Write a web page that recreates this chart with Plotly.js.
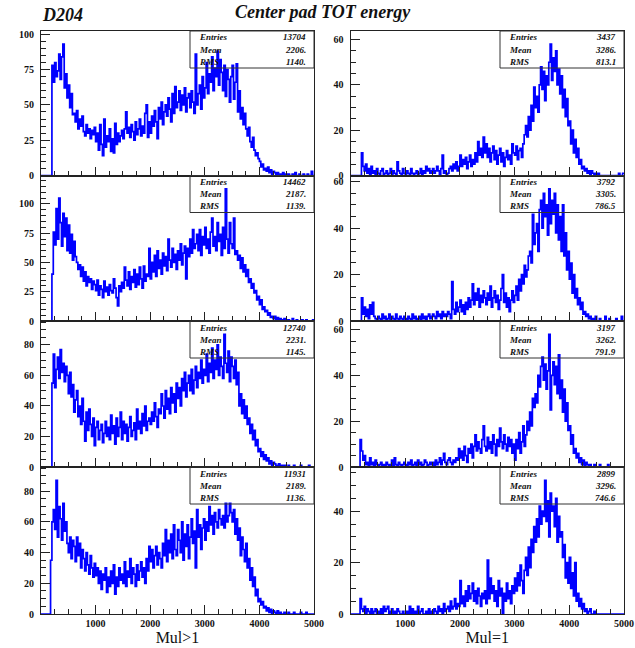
<!DOCTYPE html>
<html>
<head>
<meta charset="utf-8">
<script src="https://cdn.plot.ly/plotly-3.0.1.min.js"></script>
<style>
html,body{margin:0;padding:0;background:#fff}
#chart{width:635px;height:648px}
</style>
</head>
<body>
<div id="chart"></div>
<script>
// TOT spectra, 25-unit bins from 0 to 5000 (200 bins per histogram)
const binWidth = 25;
const xMin = 0;
const xMax = 5000;

// Mul>1 (left column)
const mulGt1Pad1 = [
  0,0,0,0,0,0,0,0,78,66,80,70,74,86,68,84,93,62,72,55,
  64,48,58,43,44,38,46,33,40,35,42,31,28,36,30,33,26,32,29,34,
  24,30,18,36,22,14,40,20,28,24,33,17,26,16,37,22,30,24,28,32,
  26,33,45,30,34,27,36,31,25,38,29,33,40,28,35,30,44,50,27,38,
  30,42,35,46,38,26,48,40,52,36,45,50,42,55,47,38,58,44,63,48,
  52,60,46,57,50,62,45,55,58,48,60,52,44,86,50,58,64,47,70,55,
  62,80,58,72,66,84,60,76,70,88,64,82,73,60,78,56,75,68,52,70,
  78,54,66,79,45,60,40,48,36,44,33,28,34,24,20,27,18,14,16,12,
  10,6,8,4,5,3,6,2,4,1,3,2,0,2,1,0,1,2,0,1,
  0,1,0,0,1,0,2,0,0,1,0,0,1,0,0,1,0,0,3,0
];
const mulGt1Pad2 = [
  0,0,0,0,0,0,0,0,40,76,65,96,70,105,84,64,92,72,88,60,
  82,58,74,52,68,55,50,44,48,38,46,34,42,30,38,33,36,27,34,31,
  26,35,22,30,27,20,34,25,29,22,31,26,24,36,28,20,13,30,25,33,
  28,46,35,30,42,27,38,33,44,29,40,31,46,36,28,47,34,40,38,62,
  36,50,42,56,38,60,45,52,40,58,47,55,43,70,52,46,62,50,57,44,
  60,52,66,48,58,64,36,62,55,70,58,78,62,66,74,60,78,56,72,65,
  80,62,70,58,76,88,64,72,60,84,68,74,56,80,62,113,70,58,84,66,
  62,88,57,60,52,56,45,54,42,48,38,44,33,36,28,32,24,26,18,21,
  14,18,10,12,8,9,5,7,3,4,2,4,1,3,0,2,1,0,2,1,
  0,1,0,0,2,0,0,1,0,0,0,1,0,0,1,0,0,0,0,1
];
const mulGt1Pad3 = [
  0,0,0,0,0,0,0,0,55,74,52,64,72,58,77,62,68,56,66,60,
  48,62,46,54,36,44,50,33,40,28,45,30,17,36,24,38,28,20,32,14,
  26,30,18,24,28,16,22,30,20,26,18,34,22,27,15,32,20,26,36,18,
  30,22,28,17,26,33,20,24,29,18,38,25,30,22,35,27,40,24,30,32,
  28,36,30,42,33,26,38,35,48,40,32,50,38,45,35,52,42,48,36,55,
  45,52,40,58,50,62,46,55,60,50,64,48,57,66,52,62,58,70,55,64,
  60,74,56,68,62,78,58,70,64,80,60,72,66,58,87,68,62,76,56,72,
  66,58,70,54,62,40,48,35,44,32,40,28,32,22,28,18,24,14,18,10,
  12,7,10,5,8,4,6,2,4,1,3,2,0,1,2,0,1,0,1,0,
  0,1,0,0,0,1,0,0,0,0,1,0,0,0,0,0,1,0,0,0
];
const mulGt1Pad4 = [
  0,0,0,0,0,0,0,35,60,68,55,87,50,70,62,48,72,54,60,46,
  40,50,36,48,44,34,50,38,46,30,42,36,28,40,32,26,38,30,24,33,
  25,30,20,28,16,26,22,30,14,24,18,28,20,32,13,24,18,30,22,26,
  20,34,18,28,24,36,20,30,26,18,32,22,28,34,24,30,20,36,28,44,
  34,42,30,38,44,32,40,36,30,46,38,55,34,48,40,52,36,58,42,38,
  55,48,40,60,35,52,44,58,36,50,62,46,54,30,68,50,58,42,56,62,
  48,60,54,70,58,64,52,66,60,56,68,62,58,64,56,72,60,64,72,66,
  60,68,52,62,48,56,38,50,42,34,46,30,36,22,30,18,24,12,16,8,
  10,6,8,4,5,2,4,1,3,0,2,1,0,2,0,1,0,0,1,0,
  0,1,0,0,0,1,0,0,0,0,1,0,0,0,1,0,0,0,0,0
];

// Mul=1 (right column)
const mulEq1Pad1 = [
  0,0,0,0,0,0,0,0,10,4,2,5,1,3,0,4,1,2,0,3,
  1,0,2,3,0,1,2,0,1,3,0,2,1,0,6,2,1,0,3,1,
  0,2,1,0,3,1,0,1,2,0,1,3,0,2,1,4,2,3,1,2,
  3,1,2,4,2,0,3,9,1,2,0,1,3,4,2,5,3,6,2,4,
  9,4,7,5,8,3,6,9,4,7,5,10,6,15,9,12,8,17,10,14,
  8,12,6,10,13,7,11,5,9,12,6,10,4,8,11,7,9,5,14,10,
  9,13,7,11,12,8,14,18,22,17,26,20,31,24,39,30,35,28,40,48,
  38,46,33,44,40,50,58,42,52,46,55,40,47,36,44,30,38,26,34,22,
  24,14,20,10,16,8,12,5,7,3,4,2,3,1,2,0,2,1,0,1,
  0,1,0,0,0,0,0,0,0,0,0,0,0,0,0,0,1,0,0,1
];
const mulEq1Pad2 = [
  0,0,0,0,0,0,0,0,10,3,6,2,5,1,7,3,8,2,1,0,
  2,1,0,3,1,2,0,1,3,0,2,1,0,3,1,0,2,1,0,2,
  1,0,2,1,0,3,1,2,0,1,2,0,3,1,2,0,2,3,1,2,
  3,2,1,4,2,3,1,4,2,3,2,4,3,1,17,5,3,8,4,6,
  9,4,7,3,8,5,10,6,9,16,7,12,9,14,6,11,8,13,10,7,
  12,9,15,6,10,13,8,11,5,9,14,20,8,12,6,10,4,9,13,8,
  11,15,9,18,13,20,16,24,19,22,28,30,25,46,33,38,42,30,48,52,
  40,55,45,50,37,57,42,52,46,55,38,50,35,45,30,50,28,38,22,30,
  18,25,12,20,10,14,7,10,5,8,3,4,2,3,1,2,0,1,0,2,
  0,0,1,0,0,0,2,0,0,1,0,0,0,0,1,0,0,0,2,0
];
const mulEq1Pad3 = [
  0,0,0,0,0,0,0,12,7,3,5,1,2,0,4,1,2,0,3,1,
  0,1,2,0,1,0,2,1,0,1,3,0,4,1,0,2,1,0,1,2,
  1,0,2,1,3,0,1,2,0,3,1,2,0,1,3,2,0,1,2,1,
  2,0,3,1,2,4,1,3,6,2,1,3,4,2,1,3,2,4,3,8,
  4,7,3,9,5,2,8,6,10,4,9,14,7,11,8,6,12,18,9,7,
  13,8,11,6,14,10,5,12,9,17,11,8,14,10,7,13,9,12,6,10,
  3,12,8,15,6,11,18,9,14,20,16,24,18,30,26,32,28,40,35,44,
  48,38,45,34,42,58,25,40,46,36,44,32,49,30,38,24,34,20,28,16,
  18,10,14,6,8,4,6,2,4,1,3,0,2,1,0,1,0,0,1,0,
  0,0,1,0,0,0,0,0,1,0,0,0,0,0,0,0,0,0,0,0
];
const mulEq1Pad4 = [
  0,0,0,0,0,0,0,6,2,1,3,0,2,1,0,2,0,1,2,0,
  1,0,2,0,3,1,2,3,0,1,2,0,1,0,2,1,0,0,1,0,
  0,1,0,3,0,2,0,1,0,3,0,1,2,0,0,1,0,2,0,1,
  0,2,1,0,3,1,2,0,4,1,2,3,1,5,2,3,6,2,4,3,
  13,4,7,3,9,5,11,6,8,12,5,9,4,10,7,3,8,6,9,4,
  21,6,14,8,11,5,9,3,13,7,10,0,8,5,12,6,9,4,11,8,
  14,9,16,11,19,13,8,17,22,15,26,18,29,24,34,28,37,30,42,35,
  40,38,52,36,44,30,47,40,42,34,45,28,38,30,32,22,27,14,20,12,
  22,10,16,7,20,5,8,3,6,2,4,1,2,0,1,2,0,0,1,0,
  0,0,0,0,0,0,0,0,0,0,0,0,0,0,0,0,0,0,0,0
];

// Statistics box contents
const statLabels = ['Entries', 'Mean', 'RMS'];
const statsGt1 = [
  ['13704', '2206.', '1140.'],
  ['14462', '2187.', '1139.'],
  ['12740', '2231.', '1145.'],
  ['11931', '2189.', '1136.']
];
const statsEq1 = [
  ['3437', '3286.', '813.1'],
  ['3792', '3305.', '786.5'],
  ['3197', '3262.', '791.9'],
  ['2899', '3296.', '746.6']
];

const xTickVals = [0, 1000, 2000, 3000, 4000, 5000];
const xTickText = ['', '1000', '2000', '3000', '4000', '5000'];
const columnTitles = ['Mul>1', 'Mul=1'];

// ---- layout geometry ----
const W = 635, H = 648;
const colDomains = [[41 / W, 314 / W], [350.5 / W, 624 / W]];
const rowEdges = [31, 175.5, 321, 467, 614];
const rowDomains = [0, 1, 2, 3].map(r => [1 - rowEdges[r + 1] / H, 1 - rowEdges[r] / H]);

const gt1 = [mulGt1Pad1, mulGt1Pad2, mulGt1Pad3, mulGt1Pad4];
const eq1 = [mulEq1Pad1, mulEq1Pad2, mulEq1Pad3, mulEq1Pad4];
const leftDticks = [25, 25, 20, 20];

const serif = 'Liberation Serif, Times New Roman, serif';
const frameColor = '#222';
const tickFont = {family: serif, size: 10, weight: 'bold', color: '#111'};
const statFont = {family: serif, size: 9, weight: 'bold', style: 'italic', color: '#111'};
const headFont = {family: serif, size: 18, weight: 'bold', style: 'italic', color: '#111'};

const panels = [];
for (let r = 0; r < 4; r++) {
  panels.push({counts: gt1[r], stats: statsGt1[r], col: 0, row: r, ydtick: leftDticks[r]});
  panels.push({counts: eq1[r], stats: statsEq1[r], col: 1, row: r, ydtick: 20});
}

const traces = [];
const layout = {
  width: W, height: H,
  margin: {l: 0, r: 0, t: 0, b: 0},
  paper_bgcolor: '#fff', plot_bgcolor: '#fff',
  showlegend: false,
  shapes: [],
  annotations: [
    {text: 'D204', xref: 'paper', yref: 'paper', x: 40 / W, y: 1 - 15 / H,
     xanchor: 'left', yanchor: 'middle', showarrow: false, font: headFont},
    {text: 'Center pad TOT energy', xref: 'paper', yref: 'paper', x: 323 / W, y: 1 - 12 / H,
     xanchor: 'center', yanchor: 'middle', showarrow: false, font: headFont}
  ]
};

panels.forEach((p, k) => {
  const n = k + 1;
  const xs = [], ys = [];
  p.counts.forEach((c, i) => { xs.push(xMin + i * binWidth); ys.push(c); });
  xs.push(xMax); ys.push(p.counts[p.counts.length - 1]);
  traces.push({
    type: 'scatter', mode: 'lines', x: xs, y: ys,
    xaxis: 'x' + n, yaxis: 'y' + n,
    line: {shape: 'hv', color: '#0000ff', width: 1.7},
    hoverinfo: 'skip'
  });

  const bottom = p.row === 3;
  layout['xaxis' + n] = {
    domain: colDomains[p.col], anchor: 'y' + n, range: [xMin, xMax],
    showline: true, mirror: true, linecolor: frameColor, linewidth: 1,
    showgrid: false, zeroline: false,
    ticks: 'inside', ticklen: 9, tickwidth: 1, tickcolor: frameColor,
    tickmode: 'array', tickvals: xTickVals, ticktext: xTickText,
    showticklabels: bottom, tickfont: tickFont,
    minor: {ticks: 'inside', dtick: 250, tick0: 0, ticklen: 5, tickwidth: 1, tickcolor: frameColor, showgrid: false},
    title: bottom ? {text: columnTitles[p.col], font: {family: serif, size: 16, color: '#111'}, standoff: 3} : {text: ''}
  };
  // ROOT-style automatic maximum: 10% headroom above the tallest bin
  const ymax = Math.max(...p.counts) * 1.1;
  layout['yaxis' + n] = {
    domain: rowDomains[p.row], anchor: 'x' + n, range: [0, ymax],
    showline: true, mirror: true, linecolor: frameColor, linewidth: 1,
    showgrid: false, zeroline: false,
    ticks: 'inside', ticklen: 9, tickwidth: 1, tickcolor: frameColor,
    tickmode: 'linear', tick0: 0, dtick: p.ydtick,
    tickfont: tickFont, ticklabelstandoff: 4,
    minor: {ticks: 'inside', dtick: 5, tick0: 0, ticklen: 5, tickwidth: 1, tickcolor: frameColor, showgrid: false}
  };

  // statistics box in the top-right corner of each pad
  const padW = (colDomains[p.col][1] - colDomains[p.col][0]) * W;
  const padH = (rowDomains[p.row][1] - rowDomains[p.row][0]) * H;
  const boxW = 124, boxH = 37;
  layout.shapes.push({
    type: 'rect', xref: 'x' + n + ' domain', yref: 'y' + n + ' domain',
    x0: 1 - boxW / padW, x1: 1, y0: 1 - boxH / padH, y1: 1,
    line: {color: '#333', width: 1}, fillcolor: 'rgba(0,0,0,0)', layer: 'above'
  });
  statLabels.forEach((lab, j) => {
    const yy = 1 - (6.5 + 12.2 * j) / padH;
    layout.annotations.push({
      text: lab, xref: 'x' + n + ' domain', yref: 'y' + n + ' domain',
      x: 1 - (boxW - 7) / padW, y: yy, xanchor: 'left', yanchor: 'middle',
      showarrow: false, font: statFont
    });
    layout.annotations.push({
      text: p.stats[j], xref: 'x' + n + ' domain', yref: 'y' + n + ' domain',
      x: 1 - 6 / padW, y: yy, xanchor: 'right', yanchor: 'middle',
      showarrow: false, font: statFont
    });
  });
});

Plotly.newPlot('chart', traces, layout, {staticPlot: true, displayModeBar: false});
</script>
</body>
</html>
